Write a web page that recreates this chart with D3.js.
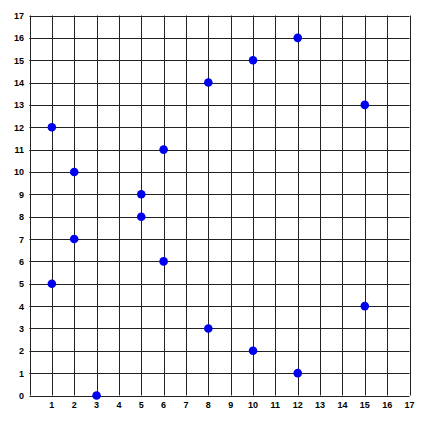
<!DOCTYPE html>
<html><head><meta charset="utf-8">
<script src="https://cdn.jsdelivr.net/npm/d3@7"></script>
<style>body{margin:0;background:#fff}</style>
</head><body>
<svg id="c" width="436" height="422"></svg>
<script>
const xs = [1,1,2,2,3,5,5,6,6,8,8,10,10,12,12,15,15];
const ys = [12,5,10,7,0,9,8,11,6,14,3,15,2,16,1,13,4];
const xTicks = d3.range(1,18);
const yTicks = d3.range(0,18);

const svg = d3.select("#c");
const L=29.5,R=409.5,T=15.5,B=395.5;
const x = d3.scaleLinear().domain([0,17]).range([L,R]);
const y = d3.scaleLinear().domain([0,17]).range([B,T]);

const g = svg.append("g");
g.selectAll("line.v").data(d3.range(0,18)).join("line")
  .attr("x1",d=>Math.round(x(d))+0.5).attr("x2",d=>Math.round(x(d))+0.5)
  .attr("y1",T).attr("y2",B).attr("stroke","#222").attr("stroke-width",1);
g.selectAll("line.h").data(d3.range(0,18)).join("line")
  .attr("y1",d=>Math.round(y(d))+0.5).attr("y2",d=>Math.round(y(d))+0.5)
  .attr("x1",L).attr("x2",R).attr("stroke","#222").attr("stroke-width",1);

const font = "Liberation Sans, Arial, sans-serif";
svg.selectAll("text.x").data(xTicks).join("text")
  .attr("x",d=>x(d)).attr("y",408).attr("text-anchor","middle")
  .attr("font-family",font).attr("font-size",9).attr("font-weight","bold").text(d=>d);
svg.selectAll("text.y").data(yTicks).join("text")
  .attr("x",24).attr("y",d=>y(d)+3.5).attr("text-anchor","end")
  .attr("font-family",font).attr("font-size",9).attr("font-weight","bold").text(d=>d);

svg.selectAll("circle").data(xs.map((v,i)=>[v,ys[i]])).join("circle")
  .attr("cx",d=>x(d[0])).attr("cy",d=>y(d[1])).attr("r",4.3).attr("fill","#0000f0");
</script>
</body></html>
